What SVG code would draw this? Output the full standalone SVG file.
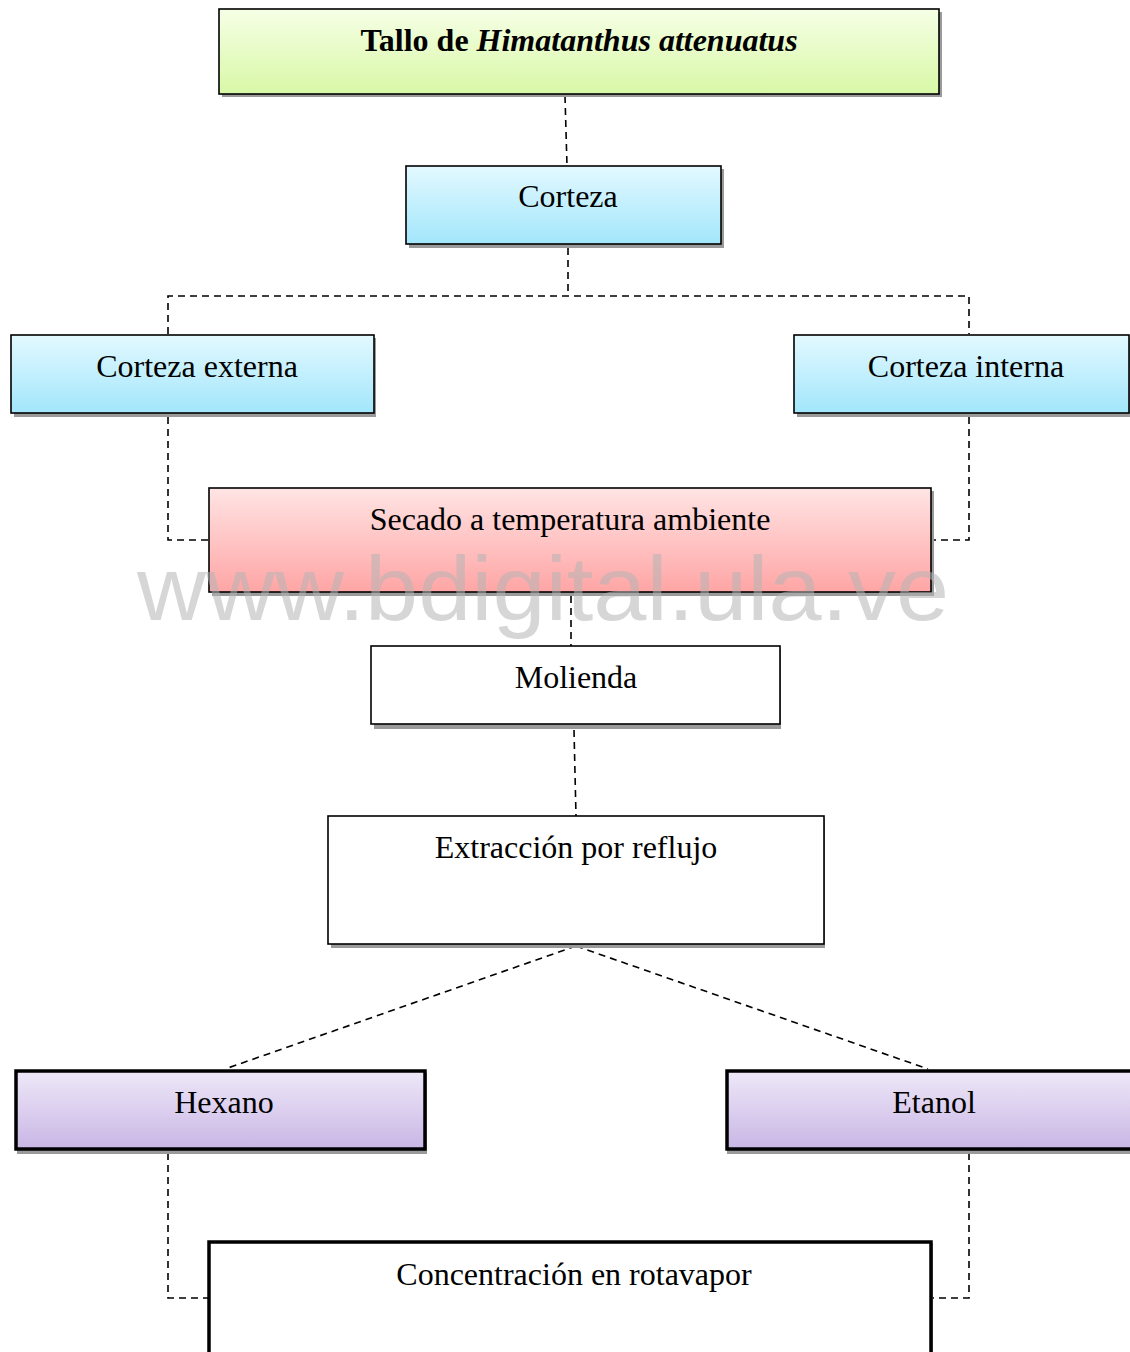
<svg xmlns="http://www.w3.org/2000/svg" width="1130" height="1352" viewBox="0 0 1130 1352">
<defs>
<linearGradient id="gGreen" x1="0" y1="0" x2="0" y2="1"><stop offset="0" stop-color="#f6ffe6"/><stop offset="1" stop-color="#d8f8a6"/></linearGradient>
<linearGradient id="gBlue" x1="0" y1="0" x2="0" y2="1"><stop offset="0" stop-color="#e3f9ff"/><stop offset="1" stop-color="#a2e6fb"/></linearGradient>
<linearGradient id="gPink" x1="0" y1="0" x2="0" y2="1"><stop offset="0" stop-color="#ffe4e4"/><stop offset="1" stop-color="#ffa5a5"/></linearGradient>
<linearGradient id="gPurple" x1="0" y1="0" x2="0" y2="1"><stop offset="0" stop-color="#eee8f8"/><stop offset="1" stop-color="#c9b6e5"/></linearGradient>
</defs>
<style>
.box{stroke:#000;stroke-width:1.6}
.thick{stroke:#000;stroke-width:3.5}
.sh{fill:#9a9a9a}
.lbl{font-family:"Liberation Serif","Times New Roman",serif;font-size:32px;fill:#000;text-anchor:middle}
.conn{fill:none;stroke:#000;stroke-width:1.6;stroke-dasharray:7,5}
.wm{font-family:"Liberation Sans",Arial,sans-serif;font-size:90px;fill:#b4b4b4;fill-opacity:0.55;text-anchor:middle}
</style>
<g id="connectors">
<path class="conn" d="M565,96 L567,166"/>
<path class="conn" d="M568,248 L568,296 M168,334 L168,296 L969,296 L969,334"/>
<path class="conn" d="M168,417 L168,540 L209,540"/>
<path class="conn" d="M969,417 L969,540 L931,540"/>
<path class="conn" d="M571,596 L571,646"/>
<path class="conn" d="M574,730 L576,816"/>
<path class="conn" d="M576,946 L225,1069 M576,946 L928,1069"/>
<path class="conn" d="M168,1153 L168,1298 L209,1298"/>
<path class="conn" d="M969,1153 L969,1298 L931,1298"/>
</g>
<g id="n-tallo">
<rect class="sh" x="222" y="12" width="720" height="85"/>
<rect class="box" x="219" y="9" width="720" height="85" fill="url(#gGreen)"/>
<text class="lbl" x="579" y="51" font-weight="bold">Tallo de <tspan font-style="italic">Himatanthus attenuatus</tspan></text>
</g>
<g id="n-corteza">
<rect class="sh" x="409" y="169" width="315" height="79"/>
<rect class="box" x="406" y="166" width="315" height="78" fill="url(#gBlue)"/>
<text class="lbl" x="568" y="207">Corteza</text>
</g>
<g id="n-externa">
<rect class="sh" x="14" y="338" width="362" height="79"/>
<rect class="box" x="11" y="335" width="363" height="78" fill="url(#gBlue)"/>
<text class="lbl" x="197" y="377">Corteza externa</text>
</g>
<g id="n-interna">
<rect class="sh" x="797" y="338" width="336" height="79"/>
<rect class="box" x="794" y="335" width="335" height="78" fill="url(#gBlue)"/>
<text class="lbl" x="966" y="377">Corteza interna</text>
</g>
<g id="n-secado">
<rect class="sh" x="212" y="491" width="722" height="105"/>
<rect class="box" x="209" y="488" width="722" height="104" fill="url(#gPink)"/>
<text class="lbl" x="570" y="530">Secado a temperatura ambiente</text>
</g>
<g id="n-molienda">
<rect class="sh" x="374" y="649" width="407" height="80"/>
<rect class="box" x="371" y="646" width="409" height="78" fill="#fff"/>
<text class="lbl" x="576" y="688">Molienda</text>
</g>
<g id="n-extraccion">
<rect class="sh" x="331" y="819" width="494" height="129"/>
<rect class="box" x="328" y="816" width="496" height="128" fill="#fff"/>
<text class="lbl" x="576" y="858">Extracción por reflujo</text>
</g>
<g id="n-hexano">
<rect class="sh" x="17" y="1073" width="410" height="81"/>
<rect class="thick" x="16" y="1071" width="409" height="78" fill="url(#gPurple)"/>
<text class="lbl" x="224" y="1113">Hexano</text>
</g>
<g id="n-etanol">
<rect class="sh" x="727" y="1073" width="410" height="81"/>
<rect class="thick" x="727" y="1071" width="410" height="78" fill="url(#gPurple)"/>
<text class="lbl" x="934" y="1113">Etanol</text>
</g>
<g id="n-concentracion">
<rect class="sh" x="211" y="1243" width="722" height="120"/>
<rect class="thick" x="209" y="1242" width="722" height="120" fill="#fff"/>
<text class="lbl" x="574" y="1285">Concentración en rotavapor</text>
</g>
<text class="wm" x="543" y="620" textLength="812" lengthAdjust="spacingAndGlyphs">www.bdigital.ula.ve</text>
</svg>
